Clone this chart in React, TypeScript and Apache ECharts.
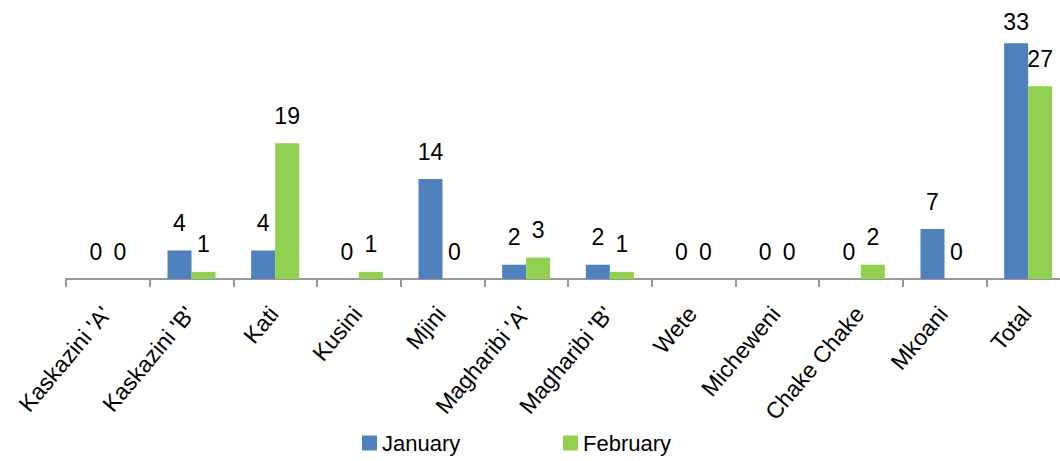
import React, { useEffect, useRef } from "react";
import * as echarts from "echarts";

const categories = [
  "Kaskazini 'A'",
  "Kaskazini 'B'",
  "Kati",
  "Kusini",
  "Mjini",
  "Magharibi 'A'",
  "Magharibi 'B'",
  "Wete",
  "Micheweni",
  "Chake Chake",
  "Mkoani",
  "Total",
];
const january = [0, 4, 4, 0, 14, 2, 2, 0, 0, 0, 7, 33];
const february = [0, 1, 19, 1, 0, 3, 1, 0, 0, 2, 0, 27];

const FONT = "'Liberation Sans', Arial, sans-serif";
const Y_MAX = 35;

// Labels that would leave the plot area are pulled closer to the bar (as Excel does)
const withClamp = (values: number[]) =>
  values.map((v) => (v > Y_MAX - 4 ? { value: v, label: { distance: 9.6 } } : v));

export default function App() {
  const ref = useRef<HTMLDivElement>(null);
  useEffect(() => {
    if (!ref.current) return;
    const chart = echarts.init(ref.current, undefined, { renderer: "svg" });
    const labelStyle = {
      show: true,
      position: "top" as const,
      distance: 16,
      color: "#000",
      fontSize: 23,
      fontFamily: FONT,
    };
    chart.setOption({
      animation: false,
      backgroundColor: "#fff",
      grid: { left: 66, top: 29, height: 250, right: 0, containLabel: false },
      xAxis: {
        type: "category",
        data: categories,
        boundaryGap: true,
        axisLine: { show: true, lineStyle: { color: "#989898", width: 2 } },
        axisTick: { show: true, length: 8, lineStyle: { color: "#989898", width: 2 } },
        axisLabel: {
          rotate: 50,
          interval: 0,
          margin: 11,
          padding: [0, 16, 0, 0],
          color: "#000",
          fontSize: 23,
          fontFamily: FONT,
          align: "right",
          verticalAlign: "top",
        },
      },
      yAxis: {
        type: "value",
        min: 0,
        max: Y_MAX,
        show: false,
        splitLine: { show: false },
      },
      legend: [
        {
          data: ["January"],
          left: 362,
          top: 432,
          padding: 0,
          itemWidth: 15,
          itemHeight: 15,
          icon: "rect",
          textStyle: { color: "#000", fontSize: 22, fontFamily: FONT },
        },
        {
          data: ["February"],
          left: 563,
          top: 432,
          padding: 0,
          itemWidth: 15,
          itemHeight: 15,
          icon: "rect",
          textStyle: { color: "#000", fontSize: 22, fontFamily: FONT },
        },
      ],
      series: [
        {
          name: "January",
          type: "bar",
          data: withClamp(january),
          barWidth: 24,
          barGap: "0%",
          itemStyle: { color: "#4F81BD" },
          label: labelStyle,
        },
        {
          name: "February",
          type: "bar",
          data: withClamp(february),
          barWidth: 24,
          barGap: "0%",
          itemStyle: { color: "#92D050" },
          label: labelStyle,
        },
      ],
    });
    return () => chart.dispose();
  }, []);
  return (
    <div
      style={{
        position: "absolute",
        left: 0,
        top: 0,
        width: 1060,
        height: 461,
        overflow: "hidden",
        background: "#fff",
      }}
    >
      <div ref={ref} style={{ width: 1070, height: 461 }} />
    </div>
  );
}
